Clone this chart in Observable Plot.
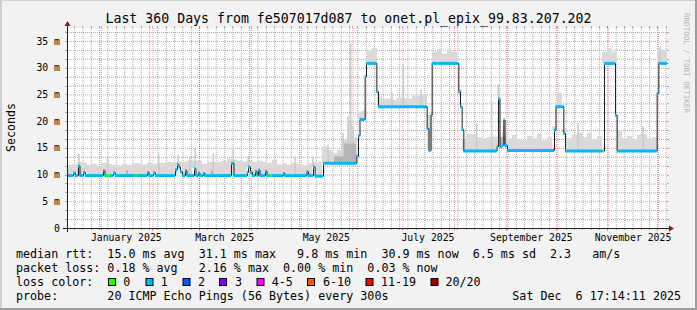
<!DOCTYPE html>
<html>
<head>
<meta charset="utf-8">
<script src="https://cdn.jsdelivr.net/npm/d3@7"></script>
<script src="https://cdn.jsdelivr.net/npm/@observablehq/plot@0.6"></script>
<style>
html,body{margin:0;padding:0;background:#f2f2f2;}
#chart{width:697px;height:310px;position:relative;overflow:hidden;}
svg{display:block;}
</style>
</head>
<body>
<div id="chart"></div>
<script>
// ---------- data ----------
const titleText = "Last 360 Days from fe507017d087 to onet.pl_epix_99.83.207.202";
const endStamp = "Sat Dec  6 17:14:11 2025";
const spanDays = 360;

// median rtt (ms), step function: value holds from medianDay[i] (days since start) to next change
const medianDay = [0,3.6,4.8,6.6,7.5,9.6,10.8,21.6,22.5,23.4,25.8,27.6,28.8,40.8,42,48,48.9,51.6,52.8,64.8,66,66.9,67.8,69,70.8,71.7,76.2,77.1,78.6,79.5,81.6,82.5,98.4,99.9,108,108.6,109.8,111,112.8,113.7,114.6,115.5,118.8,119.7,121.2,123,129.6,130.5,143.7,144.6,147.6,148.6,153.6,173.6,174.6,175.5,178.6,179.4,185.6,186.6,215.8,216.9,218.1,218.8,222,222.9,234.8,235.8,236.8,237.8,257.8,258.6,259.5,261,261.8,262.5,264,292.2,293.1,297.8,298.8,321.3,322.2,328.8,329.8,353.8,354.8];
const medianVal = [9.9,10.4,9.9,11.7,9.9,10.5,9.9,10.8,9.9,9.9,9.9,10.4,9.9,9.9,9.9,10.5,9.9,10.4,9.9,11.0,12.0,11.5,10.6,9.9,10.8,9.9,11.2,9.9,10.4,9.9,10.3,9.9,12.2,9.9,10.5,11.5,10.5,9.9,10.7,9.9,10.9,9.9,10.7,9.9,9.9,9.9,10.3,9.9,10.6,9.9,11.5,9.8,12.2,13.5,17.3,20.4,28.4,30.9,25.6,22.8,18.7,14.6,21.2,30.9,30.9,30.9,25.6,22.8,18.5,14.5,15.3,24.3,15.3,15.6,20.3,15.5,14.6,18.4,22.8,17.8,14.5,14.5,30.9,21.2,14.5,25.3,30.9];
// loss level index of each median segment (0 = no loss, 1 = 1/20 ...)
const medianLoss = [1,1,1,1,1,1,1,1,1,0,1,1,1,0,1,1,1,1,1,1,1,1,1,1,1,1,1,1,1,1,1,1,1,1,1,1,1,1,1,1,1,1,1,1,0,1,1,1,1,1,1,1,1,1,1,1,1,1,1,1,1,1,1,1,0,1,1,1,1,1,1,1,1,1,1,1,1,1,1,1,1,0,1,1,1,1,1];

// smoke: upper edge of the ping spread (ms), one value per 3-day column
const smokeStepDays = 3;
const smokeTop = [11.8,12.0,12.4,12.2,11.8,12.0,11.6,12.2,12.0,11.8,11.7,12.0,11.8,12.1,12.1,11.9,12.2,12.0,12.2,12.2,
  12.4,12.3,12.4,12.4,12.6,12.6,12.6,12.0,12.4,12.4,12.4,12.6,13.0,12.8,12.6,12.4,12.6,12.4,12.6,12.4,
  12.2,12.8,11.9,12.1,11.8,12.2,12.0,11.7,12.1,12.4,12.4,15.3,14.6,14.0,14.6,16.5,20.0,17.0,21.8,22.0,
  33.2,33.7,24.6,24.2,24.2,24.0,24.4,24.3,24.2,24.8,24.8,25.0,21.2,33.0,33.5,32.6,33.4,33.0,26.0,16.5,
  17.6,17.6,17.0,16.8,17.0,17.1,17.0,18.0,16.8,17.4,16.6,16.4,17.2,16.8,17.6,16.4,17.0,19.0,25.3,18.5,
  16.8,17.4,17.8,17.0,17.8,16.6,17.2,33.0,33.6,33.0,18.4,16.8,17.2,16.6,17.4,17.6,16.8,17.0,33.4,33.4];
// thin smoke spikes: day since start, top (ms)
const spikeDay = [7.2,24.4,55.0,66.6,73.8,76.8,87.8,99.8,108.8,136.8,147.6,156.6,165.6,168.6,170.2,171.6,195.0,201.8,212.4,245.8,254.8,258.8,306.6,345.6,355.8];
const spikeTop = [14.0,13.4,14.0,13.7,13.4,15.0,14.0,15.0,13.4,13.4,13.4,15.6,17.8,20.9,34.6,19.0,25.3,30.6,25.9,19.6,23.7,26.8,19.6,19.0,34.0];
// denser smoke cores near the median: start day, end day, top (ms)
const coreStart = [35.4, 86.4, 160.2, 166.2, 259.8];
const coreEnd   = [36.6, 87.6, 166.2, 173.4, 263.4];
const coreTop   = [10.8, 10.7, 13.4, 15.8, 17.0];

const lossLabels = ["0","1","2","3","4-5","6-10","11-19","20/20"];
const lossColors = ["#26ff00","#00b8ff","#0059ff","#7e00ff","#ff00ff","#ff5500","#ff0000","#a10000"];

const yTickLabels = ["0","5 m","10 m","15 m","20 m","25 m","30 m","35 m"];
const xTickLabels = ["January 2025","March 2025","May 2025","July 2025","September 2025","November 2025"];

const legendLines = [
  "median rtt:  15.0 ms avg  31.1 ms max   9.8 ms min  30.9 ms now  6.5 ms sd  2.3   am/s",
  "packet loss: 0.18 % avg   2.16 % max  0.00 % min  0.03 % now",
  "loss color:",
  "probe:       20 ICMP Echo Pings (56 Bytes) every 300s"
];

// ---------- derived ----------
const t0 = Date.UTC(2024, 11, 11, 17, 14, 11);
const DAY = 864e5;
const toDate = d => new Date(t0 + d * DAY);
const tEnd = toDate(spanDays);
const yMax = 37.43;

const medianAt = day => { let v = medianVal[0]; for (let i = 0; i < medianDay.length; i++) if (medianDay[i] <= day) v = medianVal[i]; return v; };

const medSegs = medianDay.map((d, i) => ({
  x1: toDate(d), x2: toDate(i + 1 < medianDay.length ? medianDay[i + 1] : spanDays),
  y: medianVal[i], c: lossColors[medianLoss[i]]
}));
const medLine = medianDay.map((d, i) => ({x: toDate(d), y: medianVal[i]}))
  .concat([{x: tEnd, y: medianVal[medianVal.length - 1]}]);

const smoke = smokeTop.map((top, i) => ({
  x1: toDate(i * smokeStepDays), x2: toDate(Math.min(spanDays, (i + 1) * smokeStepDays)),
  y1: medianAt(i * smokeStepDays + smokeStepDays / 2), y2: top
})).filter(d => d.y2 > d.y1);
const spikes = spikeDay.map((d, i) => ({x1: toDate(d - 0.45), x2: toDate(d + 0.45), y1: medianAt(d), y2: spikeTop[i]}));
const cores = coreStart.map((s, i) => ({x1: toDate(s), x2: toDate(coreEnd[i]), y1: medianAt((s + coreEnd[i]) / 2), y2: coreTop[i]}));

const yTickVals = yTickLabels.map(s => parseFloat(s));
const yLabelOf = new Map(yTickVals.map((v, i) => [v, yTickLabels[i]]));
const parseMonth = d3.utcParse("%B %Y");
const xTickDates = xTickLabels.map(s => d3.utcDay.offset(parseMonth(s), 15));

const majorX = d3.utcMonth.range(toDate(0), tEnd);
const minorX = [];
for (let t = Date.UTC(2024, 11, 16); t < +tEnd; t += 5 * DAY) minorX.push(new Date(t));
const majorY = d3.range(5, yMax, 5);
const minorY = d3.range(1, 30).map(k => k * 5 / 3).filter(v => v < yMax && Math.abs(v / 5 - Math.round(v / 5)) > 1e-6);

const GRID = "rgba(143,143,143,0.75)";
const MGRID = "rgba(222,79,79,0.6)";
const FONT = "'DejaVu Sans Mono', monospace";

const plot = Plot.plot({
  width: 697, height: 310,
  marginLeft: 67, marginRight: 30, marginTop: 28, marginBottom: 82,
  x: {type: "utc", domain: [toDate(0), tEnd]},
  y: {domain: [0, yMax]},
  color: {type: "identity"},
  style: {fontFamily: FONT, fontSize: "9.8px", color: "#000", background: "transparent", overflow: "visible"},
  marks: [
    Plot.frame({fill: "#ffffff", stroke: "none"}),
    Plot.ruleX(minorX, {stroke: GRID, strokeDasharray: "1,1"}),
    Plot.ruleY(minorY, {stroke: GRID, strokeDasharray: "1,1"}),
    Plot.ruleX(majorX, {stroke: MGRID, strokeDasharray: "1,1"}),
    Plot.ruleY(majorY, {stroke: MGRID, strokeDasharray: "1,1"}),
    Plot.rect(smoke, {x1: "x1", x2: "x2", y1: "y1", y2: "y2", fill: "#d9d9d9"}),
    Plot.rect(spikes, {x1: "x1", x2: "x2", y1: "y1", y2: "y2", fill: "#c9c9c9"}),
    Plot.rect(cores, {x1: "x1", x2: "x2", y1: "y1", y2: "y2", fill: "#b3b3b3"}),
    Plot.line(medLine, {x: "x", y: "y", curve: "step-after", stroke: "#202020", strokeWidth: 1}),
    Plot.ruleY(medSegs, {x1: "x1", x2: "x2", y: "y", stroke: "c", strokeWidth: 3}),
    Plot.axisX(xTickDates, {tickSize: 0, tickPadding: 6, tickFormat: d3.utcFormat("%B %Y"), label: null, fill: "#000"}),
    Plot.axisY(yTickVals, {tickSize: 0, tickPadding: 7.5, tickFormat: d => yLabelOf.get(d), label: null, fill: "#000"})
  ]
});
document.getElementById("chart").appendChild(plot);

// ---------- frame, axes, texts ----------
const svg = d3.select(plot);
const xs = plot.scale("x"), ys = plot.scale("y");
const [xL, xR] = xs.range, [yB, yT] = ys.range;
const X = d => xs.apply(d), Y = v => ys.apply(v);

const g = svg.append("g").attr("text-anchor", "start");
// grid tick stubs outside the canvas
minorX.forEach(d => {
  const x = Math.round(X(d)) + 0.5;
  g.append("line").attr("x1", x).attr("x2", x).attr("y1", yT - 2).attr("y2", yT).attr("stroke", GRID);
  g.append("line").attr("x1", x).attr("x2", x).attr("y1", yB).attr("y2", yB + 2).attr("stroke", GRID);
});
majorX.forEach(d => {
  const x = Math.round(X(d)) + 0.5;
  g.append("line").attr("x1", x).attr("x2", x).attr("y1", yT - 2).attr("y2", yT).attr("stroke", MGRID);
  g.append("line").attr("x1", x).attr("x2", x).attr("y1", yB).attr("y2", yB + 3).attr("stroke", MGRID);
});
majorY.concat(minorY).forEach(v => {
  const y = Math.round(Y(v)) + 0.5;
  const col = majorY.includes(v) ? MGRID : GRID;
  g.append("line").attr("x1", xL - 2).attr("x2", xL).attr("y1", y).attr("y2", y).attr("stroke", col);
  g.append("line").attr("x1", xR).attr("x2", xR + 2).attr("y1", y).attr("y2", y).attr("stroke", col);
});

// axes with arrows
const AX = "#1f1f1f", AR = "#801f1f";
g.append("line").attr("x1", xL - 4).attr("x2", xR + 4).attr("y1", yB + 0.5).attr("y2", yB + 0.5).attr("stroke", AX);
g.append("line").attr("x1", xL + 0.5).attr("x2", xL + 0.5).attr("y1", yB + 4).attr("y2", yT - 4).attr("stroke", AX);
g.append("polygon").attr("points", `${xR+2},${yB-3+0.5} ${xR+2},${yB+3+0.5} ${xR+7},${yB+0.5}`).attr("fill", AR);
g.append("polygon").attr("points", `${xL-3+0.5},${yT-2} ${xL+3+0.5},${yT-2} ${xL+0.5},${yT-7}`).attr("fill", AR);

// outer 3D border
g.append("line").attr("x1", 0).attr("x2", 697).attr("y1", 0.5).attr("y2", 0.5).attr("stroke", "#cfcfcf");
g.append("line").attr("x1", 1).attr("x2", 1).attr("y1", 0).attr("y2", 310).attr("stroke", "#cfcfcf").attr("stroke-width", 2);
g.append("line").attr("x1", 696).attr("x2", 696).attr("y1", 0).attr("y2", 310).attr("stroke", "#9e9e9e").attr("stroke-width", 2);
g.append("line").attr("x1", 0).attr("x2", 697).attr("y1", 309).attr("y2", 309).attr("stroke", "#9e9e9e").attr("stroke-width", 2);

// title
g.append("text").attr("x", 348.5).attr("y", 23).attr("text-anchor", "middle")
  .attr("font-family", FONT).attr("font-size", "13.24px").attr("fill", "#000").text(titleText);
// y label
g.append("text").attr("transform", "translate(15,127.5) rotate(-90)").attr("text-anchor", "middle")
  .attr("font-family", FONT).attr("font-size", "11.6px").attr("fill", "#000").text("Seconds");
// watermark
g.append("text").attr("transform", "translate(683.5,13) rotate(90)").attr("text-anchor", "start")
  .attr("font-family", FONT).attr("font-size", "7.55px").attr("fill", "#b4b4b4").text("RRDTOOL / TOBI OETIKER");

// legend
const LF = "11.68px";
const baselines = [257.8, 271.7, 285.7, 299.5];
legendLines.forEach((s, i) => {
  g.append("text").attr("x", 16).attr("y", baselines[i]).attr("text-anchor", "start")
    .attr("xml:space", "preserve").style("white-space", "pre")
    .attr("font-family", FONT).attr("font-size", LF).attr("fill", "#000").text(s);
});
g.append("text").attr("x", 681).attr("y", baselines[3]).attr("text-anchor", "end")
  .attr("xml:space", "preserve").style("white-space", "pre")
  .attr("font-family", FONT).attr("font-size", LF).attr("fill", "#000").text(endStamp);
const swatchX = [108.5, 146, 183, 219.5, 257, 307.5, 366, 431];
const labelX = [123.3, 160.7, 198, 235, 271.7, 323, 381, 445.5];
lossLabels.forEach((lab, i) => {
  g.append("rect").attr("x", swatchX[i]).attr("y", 278.5).attr("width", 7).attr("height", 7)
    .attr("fill", lossColors[i]).attr("stroke", "#000").attr("stroke-width", 1);
  g.append("text").attr("x", labelX[i]).attr("y", baselines[2]).attr("text-anchor", "start")
    .attr("font-family", FONT).attr("font-size", LF).attr("fill", "#000").text(lab);
});
</script>
</body>
</html>
